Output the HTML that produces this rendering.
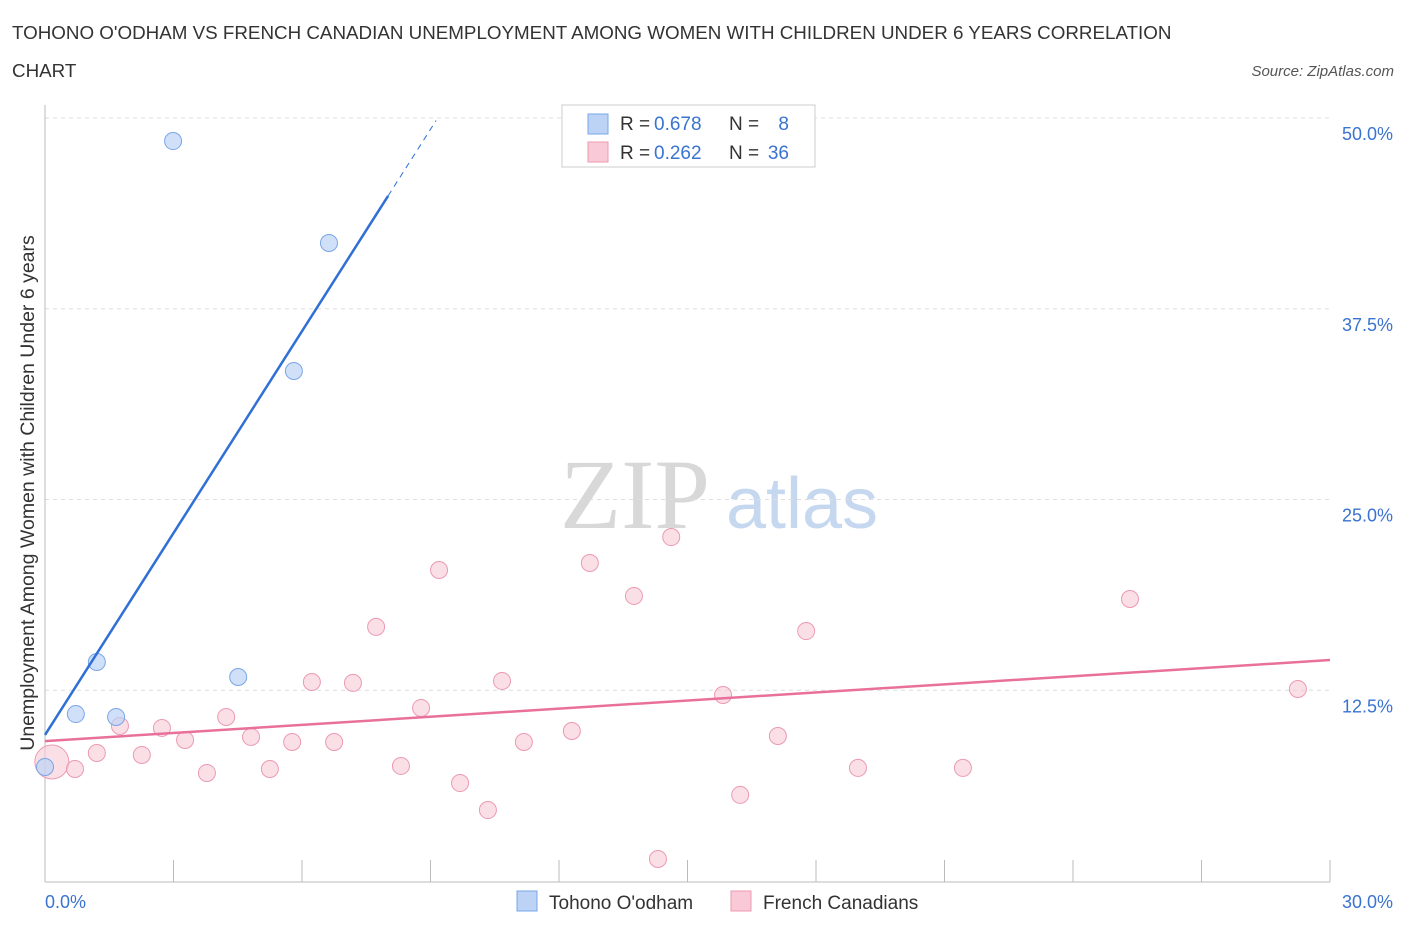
<!DOCTYPE html>
<html><head><meta charset="utf-8"><style>
body{margin:0;background:#fff;font-family:"Liberation Sans",sans-serif;}
svg text{font-family:"Liberation Sans",sans-serif;}
</style></head><body>
<svg id="c" width="1406" height="930">
<text x="12" y="39" font-size="18.8" fill="#333">TOHONO O'ODHAM VS FRENCH CANADIAN UNEMPLOYMENT AMONG WOMEN WITH CHILDREN UNDER 6 YEARS CORRELATION</text>
<text x="12" y="77" font-size="18.8" fill="#333">CHART</text>
<text x="1394" y="76" font-size="15" fill="#555" font-style="italic" text-anchor="end">Source: ZipAtlas.com</text>
<text x="635" y="528" font-size="100" fill="#d8d8d8" style="font-family:'Liberation Serif',serif" text-anchor="middle">ZIP</text>
<text x="802" y="528" font-size="72" fill="#c6d8f0" text-anchor="middle">atlas</text>
<text transform="translate(34,493) rotate(-90)" font-size="19.5" fill="#333" text-anchor="middle">Unemployment Among Women with Children Under 6 years</text>
<g id="grid"></g><g id="marks"></g>
<g>
<rect x="562" y="105" width="253" height="62" fill="#fff" stroke="#ccc"/>
<rect x="588" y="114" width="20" height="20" fill="#bcd3f5" stroke="#7aa6e6"/>
<text x="620" y="130" font-size="19" fill="#333">R =</text>
<text x="654" y="130" font-size="19" fill="#3a73d0">0.678</text>
<text x="729" y="130" font-size="19" fill="#333">N =</text>
<text x="789" y="130" font-size="19" fill="#3a73d0" text-anchor="end">8</text>
<rect x="588" y="142" width="20" height="20" fill="#f9c9d7" stroke="#eb9ab2"/>
<text x="620" y="159" font-size="19" fill="#333">R =</text>
<text x="654" y="159" font-size="19" fill="#3a73d0">0.262</text>
<text x="729" y="159" font-size="19" fill="#333">N =</text>
<text x="789" y="159" font-size="19" fill="#3a73d0" text-anchor="end">36</text>
</g>
<g>
<rect x="517" y="891" width="20" height="20" fill="#bcd3f5" stroke="#7aa6e6"/>
<text x="549" y="909" font-size="19" fill="#333">Tohono O'odham</text>
<rect x="731" y="891" width="20" height="20" fill="#f9c9d7" stroke="#eb9ab2"/>
<text x="763" y="909" font-size="19" fill="#333">French Canadians</text>
</g>
</svg>
<script>
const blueX=[0,0.72,1.21,1.66,2.99,4.51,5.81,6.63];
const blueY=[7.47,10.94,14.35,10.75,48.49,13.37,33.42,41.81];
const pinkX=[0.16,0.70,1.21,1.75,2.26,2.73,3.27,3.78,4.23,4.81,5.25,5.77,6.23,6.75,7.19,7.73,8.31,8.78,9.20,9.69,10.34,10.67,11.18,12.30,12.72,13.75,14.31,14.62,15.83,16.23,17.11,17.77,18.98,21.43,25.33,29.25];
const pinkY=[7.80,7.34,8.39,10.16,8.26,10.03,9.24,7.08,10.75,9.44,7.34,9.11,13.04,9.11,12.98,16.65,7.54,11.34,20.38,6.42,4.65,13.11,9.11,9.83,20.84,18.68,1.44,22.54,12.19,5.64,9.50,16.38,7.41,7.41,18.48,12.58];
const yTicks=[12.5,25,37.5,50];
const yTickLabels=["12.5%","25.0%","37.5%","50.0%"];
const xTicks=[0,3,6,9,12,15,18,21,24,27,30];
const blueTrend=[9.57,4.41]; const pinkTrend=[9.17,0.177];
const X=v=>45+v/30*1285, Y=v=>881-v/50*763;
const NS="http://www.w3.org/2000/svg";
function mk(p,t,a){const e=document.createElementNS(NS,t);for(const k in a)e.setAttribute(k,a[k]);p.appendChild(e);return e;}
const g=document.getElementById('grid'),m=document.getElementById('marks');
yTicks.forEach((v,i)=>{
 const l=mk(g,'line',{x1:45,x2:1330,y1:Y(v),y2:Y(v),stroke:'#ddd','stroke-dasharray':'4,4'});
 
 
 const t=mk(g,'text',{x:1393,y:Y(v)+22,'font-size':18,fill:'#3a73d0','text-anchor':'end'});t.textContent=yTickLabels[i];
 
 
});
const ax=mk(g,'line',{x1:45,x2:1330,y1:882,y2:882,stroke:'#bbb'});


const ay=mk(g,'line',{x1:45,x2:45,y1:105,y2:882,stroke:'#bbb'});


xTicks.forEach(v=>{const t=mk(g,'line',{x1:X(v),x2:X(v),y1:860,y2:882,stroke:'#bbb'});
 
 });
const x0=mk(g,'text',{x:45,y:908,'font-size':18,fill:'#3a73d0'});x0.textContent='0.0%';


const x1=mk(g,'text',{x:1393,y:908,'font-size':18,fill:'#3a73d0','text-anchor':'end'});x1.textContent='30.0%';


pinkX.forEach((v,i)=>{const c=mk(m,'circle',{cx:X(v),cy:Y(pinkY[i]),r:i==0?17:8.5,fill:'#f9c9d7','fill-opacity':0.6,stroke:'#eb9ab2'});
 
 });
blueX.forEach((v,i)=>{const c=mk(m,'circle',{cx:X(v),cy:Y(blueY[i]),r:8.5,fill:'#bcd3f5','fill-opacity':0.7,stroke:'#7aa6e6'});
 
 });
const bl=mk(m,'line',{x1:X(0),y1:Y(blueTrend[0]),x2:X(8.01),y2:Y(blueTrend[0]+blueTrend[1]*8.01),stroke:'#2f6fd6','stroke-width':2.5});


const bd=mk(m,'line',{x1:X(8.01),y1:Y(blueTrend[0]+blueTrend[1]*8.01),x2:X(9.13),y2:Y(blueTrend[0]+blueTrend[1]*9.13),stroke:'#2f6fd6','stroke-width':1,'stroke-dasharray':'6,5'});


const pl=mk(m,'line',{x1:X(0),y1:Y(pinkTrend[0]),x2:X(30),y2:Y(pinkTrend[0]+pinkTrend[1]*30),stroke:'#e8709a','stroke-width':2.5});


</script>
</body></html>
